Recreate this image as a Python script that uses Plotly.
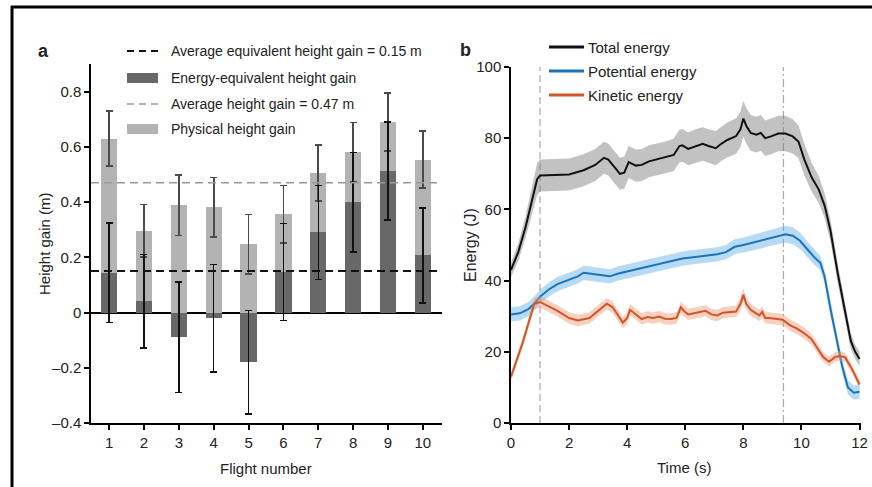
import plotly.graph_objects as go

# ---------------- Panel a data ----------------
FLIGHTS = [1, 2, 3, 4, 5, 6, 7, 8, 9, 10]
PHYSICAL_GAIN = [0.63, 0.296, 0.389, 0.382, 0.247, 0.356, 0.505, 0.581, 0.69, 0.553]
PHYSICAL_ERR = [0.10, 0.095, 0.11, 0.107, 0.108, 0.104, 0.102, 0.107, 0.105, 0.103]
ENERGY_GAIN = [0.144, 0.041, -0.09, -0.021, -0.18, 0.147, 0.29, 0.399, 0.513, 0.207]
ENERGY_ERR = [0.18, 0.17, 0.20, 0.195, 0.187, 0.176, 0.17, 0.18, 0.177, 0.172]
AVG_EQUIV = 0.15
AVG_PHYS = 0.47
Y_TICKS_A = [-0.4, -0.2, 0, 0.2, 0.4, 0.6, 0.8]
Y_TICKTEXT_A = ["\u20130.4", "\u20130.2", "0", "0.2", "0.4", "0.6", "0.8"]

# ---------------- Panel b data ----------------
T_TOTAL = [0, 0.25, 0.5, 0.75, 0.9, 1.0, 1.5, 2.0, 2.5, 2.9, 3.2, 3.35, 3.55, 3.75, 3.9,
           4.05, 4.3, 4.5, 4.75, 5.0, 5.3, 5.6, 5.8, 5.9, 6.1, 6.35, 6.6, 6.8, 7.05, 7.25,
           7.45, 7.75, 7.9, 8.0, 8.1, 8.25, 8.45, 8.6, 8.75, 8.95, 9.2, 9.45, 9.7, 9.9,
           10.1, 10.35, 10.6, 10.8, 11.0, 11.25, 11.5, 11.7, 11.85, 12.0]
E_TOTAL = [43, 48, 55, 64, 68.5, 69.5, 69.6, 69.8, 71, 72.5, 74.5, 74, 72, 70, 70.3,
           73.3, 72.3, 72.5, 73.5, 74, 74.5, 75.3, 77.8, 78, 77, 77.8, 78.4, 77.8, 77.2, 78.5,
           79.5, 80.6, 82.5, 85.5, 83.5, 81.5, 81, 81.5, 80, 80.5, 81.3, 81.3, 80.5, 79,
           74, 69, 65.5, 61, 54, 42, 31, 23, 20, 18]
SD_TOTAL = [2.0, 2.5, 3.0, 4.0, 4.5, 4.5, 4.5, 4.5, 4.5, 4.5, 4.5, 4.5, 4.5, 4.5, 4.5,
            4.5, 4.5, 4.5, 4.5, 4.5, 4.5, 4.6, 4.6, 4.6, 4.6, 4.7, 4.7, 4.7, 4.8, 4.8,
            4.9, 5.0, 5.0, 5.0, 5.0, 5.0, 5.0, 5.0, 5.0, 5.0, 5.0, 5.0, 4.8, 4.6,
            4.4, 4.0, 3.8, 3.5, 3.0, 2.8, 2.5, 2.2, 2.0, 2.0]

T_POT = [0, 0.3, 0.6, 0.8, 1.0, 1.3, 1.6, 2.0, 2.3, 2.5, 2.8, 3.1, 3.4, 3.7, 4.0, 4.3,
         4.6, 5.0, 5.3, 5.6, 5.9, 6.2, 6.5, 6.8, 7.1, 7.4, 7.7, 8.0, 8.3, 8.6, 8.9, 9.2,
         9.45, 9.7, 9.95, 10.2, 10.45, 10.65, 10.8, 11.0, 11.2, 11.4, 11.6, 11.8, 12.0]
E_POT = [30.5, 30.8, 32, 33.5, 35.5, 37.5, 39, 40.2, 41.2, 42.2, 41.8, 41.5, 41.2, 42, 42.6, 43,
         43.8, 44.5, 45.2, 45.6, 46.2, 46.5, 46.8, 47, 47.4, 48, 49.5, 50, 50.6, 51.2, 52, 52.5,
         53, 52.6, 51.2, 48.8, 46.5, 45, 41, 32, 24, 16, 10, 8.5, 8.8]
SD_POT = [2.0, 2.0, 2.0, 2.0, 2.0, 2.0, 2.0, 2.0, 2.0, 2.0, 2.0, 2.0, 2.0, 2.0, 2.0, 2.0,
          2.0, 2.0, 2.0, 2.0, 2.0, 2.0, 2.0, 2.0, 2.0, 2.0, 2.1, 2.1, 2.2, 2.2, 2.3, 2.3,
          2.4, 2.4, 2.3, 2.2, 2.1, 2.0, 2.0, 2.0, 2.0, 2.0, 2.0, 2.0, 2.0]

T_KIN = [0, 0.2, 0.4, 0.6, 0.8, 1.0, 1.3, 1.6, 2.0, 2.3, 2.7, 3.0, 3.3, 3.5, 3.7, 3.85,
         4.0, 4.1, 4.3, 4.5, 4.7, 4.9, 5.1, 5.3, 5.5, 5.7, 5.85, 5.95, 6.1, 6.3, 6.5, 6.7,
         6.9, 7.1, 7.3, 7.5, 7.75, 7.9, 8.0, 8.1, 8.25, 8.4, 8.55, 8.65, 8.75, 8.9, 9.1,
         9.35, 9.6, 9.85, 10.1, 10.35, 10.55, 10.75, 10.95, 11.15, 11.3, 11.5, 11.75, 12.0]
E_KIN = [13, 17.5, 22.5, 28, 33.5, 34, 32.8, 31.5, 29.5, 28.8, 29.5, 31.5, 33.5, 32.5, 30, 28.2,
         29.5, 31.8, 30.5, 29.2, 29.8, 29.5, 29.9, 29.3, 29.2, 29.5, 32.5, 31.5, 30.5, 30.8, 31.2, 31.5,
         30.5, 30.2, 31.0, 31.2, 31.3, 33.5, 36, 33.5, 31.8, 31, 30.2, 31.2, 29.5, 29.5, 29.3,
         29, 27.5, 26.5, 25.2, 23.5, 21, 18.5, 17.2, 18.5, 18.8, 18.5, 15, 10.8]
SD_KIN = [1.2, 1.3, 1.4, 1.5, 1.6, 1.6, 1.6, 1.6, 1.6, 1.6, 1.6, 1.6, 1.6, 1.6, 1.6, 1.6,
          1.6, 1.6, 1.6, 1.6, 1.6, 1.6, 1.6, 1.6, 1.6, 1.6, 1.6, 1.6, 1.6, 1.6, 1.6, 1.6,
          1.6, 1.6, 1.6, 1.6, 1.7, 1.8, 1.9, 1.8, 1.7, 1.6, 1.6, 1.6, 1.6, 1.6, 1.6,
          1.6, 1.6, 1.6, 1.6, 1.5, 1.5, 1.4, 1.4, 1.4, 1.4, 1.3, 1.3, 1.2]

T_MARK_START = 1.0
T_MARK_END = 9.38

# ---------------- styling ----------------
W, H = 872, 487
FONT = "Liberation Sans, Arial, sans-serif"
TXT = "#222222"
LIGHT = "#b3b3b3"
DARK = "#686868"


def px(x):
    return x / W


def py(y):
    return 1 - y / H


fig = go.Figure()

# ---- panel a bars ----
fig.add_trace(go.Bar(
    x=FLIGHTS, y=PHYSICAL_GAIN, name="Physical height gain", width=0.47,
    marker=dict(color=LIGHT, line=dict(width=0)),
    error_y=dict(type="data", array=PHYSICAL_ERR, color="#4a4a4a", thickness=1.8, width=3.5),
    xaxis="x", yaxis="y", showlegend=False))
fig.add_trace(go.Bar(
    x=FLIGHTS, y=ENERGY_GAIN, name="Energy-equivalent height gain", width=0.47,
    marker=dict(color=DARK, line=dict(width=0)),
    error_y=dict(type="data", array=ENERGY_ERR, color="#111111", thickness=1.5, width=3.5),
    xaxis="x", yaxis="y", showlegend=False))


# ---- panel b bands + lines ----
def band(t, e, sd, fillcolor, linecolor, name):
    lo = [v - s for v, s in zip(e, sd)]
    hi = [v + s for v, s in zip(e, sd)]
    fig.add_trace(go.Scatter(x=t, y=lo, mode="lines", line=dict(width=0, color=fillcolor),
                             xaxis="x2", yaxis="y2", showlegend=False, hoverinfo="skip"))
    fig.add_trace(go.Scatter(x=t, y=hi, mode="lines", line=dict(width=0, color=fillcolor),
                             fill="tonexty", fillcolor=fillcolor,
                             xaxis="x2", yaxis="y2", showlegend=False, hoverinfo="skip"))
    fig.add_trace(go.Scatter(x=t, y=e, mode="lines", name=name,
                             line=dict(width=2, color=linecolor),
                             xaxis="x2", yaxis="y2", showlegend=False))


band(T_TOTAL, E_TOTAL, SD_TOTAL, "rgba(120,120,120,0.45)", "#111111", "Total energy")
band(T_POT, E_POT, SD_POT, "rgba(95,175,230,0.45)", "#1b74ba", "Potential energy")
band(T_KIN, E_KIN, SD_KIN, "rgba(238,150,115,0.45)", "#d2552a", "Kinetic energy")

axis_common = dict(showline=True, linecolor="black", linewidth=1.5, ticks="outside",
                   ticklen=5, tickwidth=1.5, tickcolor="black", showgrid=False,
                   automargin=False, tickfont=dict(family=FONT, size=15, color=TXT))

fig.update_layout(
    width=W, height=H, margin=dict(l=0, r=0, t=0, b=0),
    paper_bgcolor="white", plot_bgcolor="white",
    barmode="overlay", bargap=0,
    font=dict(family=FONT, color=TXT),
    xaxis=dict(domain=[px(91), px(442)], range=[0.48, 10.55], tickvals=FLIGHTS,
               anchor="y", zeroline=False, **axis_common),
    yaxis=dict(domain=[py(423), py(64)], range=[-0.4, 0.9], tickvals=Y_TICKS_A,
               ticktext=Y_TICKTEXT_A, anchor="x", zeroline=True, zerolinecolor="black",
               zerolinewidth=1.5, layer="above traces", **axis_common),
    xaxis2=dict(domain=[px(511), px(861)], range=[0, 12.05], tickvals=[0, 2, 4, 6, 8, 10, 12],
                anchor="y2", zeroline=False, **axis_common),
    yaxis2=dict(domain=[py(423), py(67)], range=[0, 100], tickvals=[0, 20, 40, 60, 80, 100],
                anchor="x2", zeroline=False, **axis_common),
)

shapes = []
# frame lines
shapes.append(dict(type="line", xref="paper", yref="paper", x0=px(11), x1=1, y0=py(7), y1=py(7),
                   line=dict(color="black", width=3)))
shapes.append(dict(type="line", xref="paper", yref="paper", x0=px(12), x1=px(12), y0=py(6), y1=0,
                   line=dict(color="black", width=3)))
# average lines panel a
shapes.append(dict(type="line", xref="x domain", yref="y", x0=0, x1=1, y0=AVG_PHYS, y1=AVG_PHYS,
                   line=dict(color="#999999", width=1.6, dash="8px,5px"), layer="above"))
shapes.append(dict(type="line", xref="x domain", yref="y", x0=0, x1=1, y0=AVG_EQUIV, y1=AVG_EQUIV,
                   line=dict(color="#111111", width=2, dash="8px,5px"), layer="above"))
# marker lines panel b
shapes.append(dict(type="line", xref="x2", yref="y2 domain", x0=T_MARK_START, x1=T_MARK_START,
                   y0=0, y1=1, line=dict(color="#bbbbbb", width=1.5, dash="7px,4px"), layer="below"))
shapes.append(dict(type="line", xref="x2", yref="y2 domain", x0=T_MARK_END, x1=T_MARK_END,
                   y0=0, y1=1, line=dict(color="#aaaaaa", width=1.2, dash="8px,3px,2px,3px"),
                   layer="below"))

# legend a symbols
LEG_A_Y = [51, 78, 104, 129]
shapes.append(dict(type="line", xref="paper", yref="paper", x0=px(127), x1=px(158),
                   y0=py(LEG_A_Y[0]), y1=py(LEG_A_Y[0]),
                   line=dict(color="#111111", width=2, dash="7px,5px")))
shapes.append(dict(type="rect", xref="paper", yref="paper", x0=px(127), x1=px(158),
                   y0=py(LEG_A_Y[1] - 5), y1=py(LEG_A_Y[1] + 5), fillcolor=DARK, line=dict(width=0)))
shapes.append(dict(type="line", xref="paper", yref="paper", x0=px(127), x1=px(158),
                   y0=py(LEG_A_Y[2]), y1=py(LEG_A_Y[2]),
                   line=dict(color="#999999", width=1.6, dash="7px,5px")))
shapes.append(dict(type="rect", xref="paper", yref="paper", x0=px(127), x1=px(158),
                   y0=py(LEG_A_Y[3] - 5), y1=py(LEG_A_Y[3] + 5), fillcolor=LIGHT, line=dict(width=0)))
# legend b symbols
LEG_B_Y = [47, 71, 95]
LEG_B_COL = ["#111111", "#1b74ba", "#d2552a"]
for yy, cc in zip(LEG_B_Y, LEG_B_COL):
    shapes.append(dict(type="line", xref="paper", yref="paper", x0=px(549), x1=px(584),
                       y0=py(yy), y1=py(yy), line=dict(color=cc, width=3)))
fig.update_layout(shapes=shapes)

ann = []


def label(text, x, y, size=15, xanchor="left", angle=0, bold=False):
    ann.append(dict(text=("<b>%s</b>" % text) if bold else text, x=px(x), y=py(y),
                    xref="paper", yref="paper", xanchor=xanchor, yanchor="middle",
                    showarrow=False, textangle=angle,
                    font=dict(family=FONT, size=size, color=TXT)))


LEG_A_TEXT = ["Average equivalent height gain = 0.15 m", "Energy-equivalent height gain",
              "Average height gain = 0.47 m", "Physical height gain"]
for yy, tt in zip(LEG_A_Y, LEG_A_TEXT):
    label(tt, 169, yy, size=14)
LEG_B_TEXT = ["Total energy", "Potential energy", "Kinetic energy"]
for yy, tt in zip(LEG_B_Y, LEG_B_TEXT):
    label(tt, 586, yy, size=15)

label("a", 43, 51, size=18, xanchor="center", bold=True)
label("b", 466, 50, size=18, xanchor="center", bold=True)
label("Height gain (m)", 44, 244, size=15, xanchor="center", angle=-90)
label("Flight number", 266, 468, size=15, xanchor="center")
label("Energy (J)", 471, 245, size=16, xanchor="center", angle=-90)
label("Time (s)", 684, 467, size=15, xanchor="center")
fig.update_layout(annotations=ann)

fig.write_html("out.html")
